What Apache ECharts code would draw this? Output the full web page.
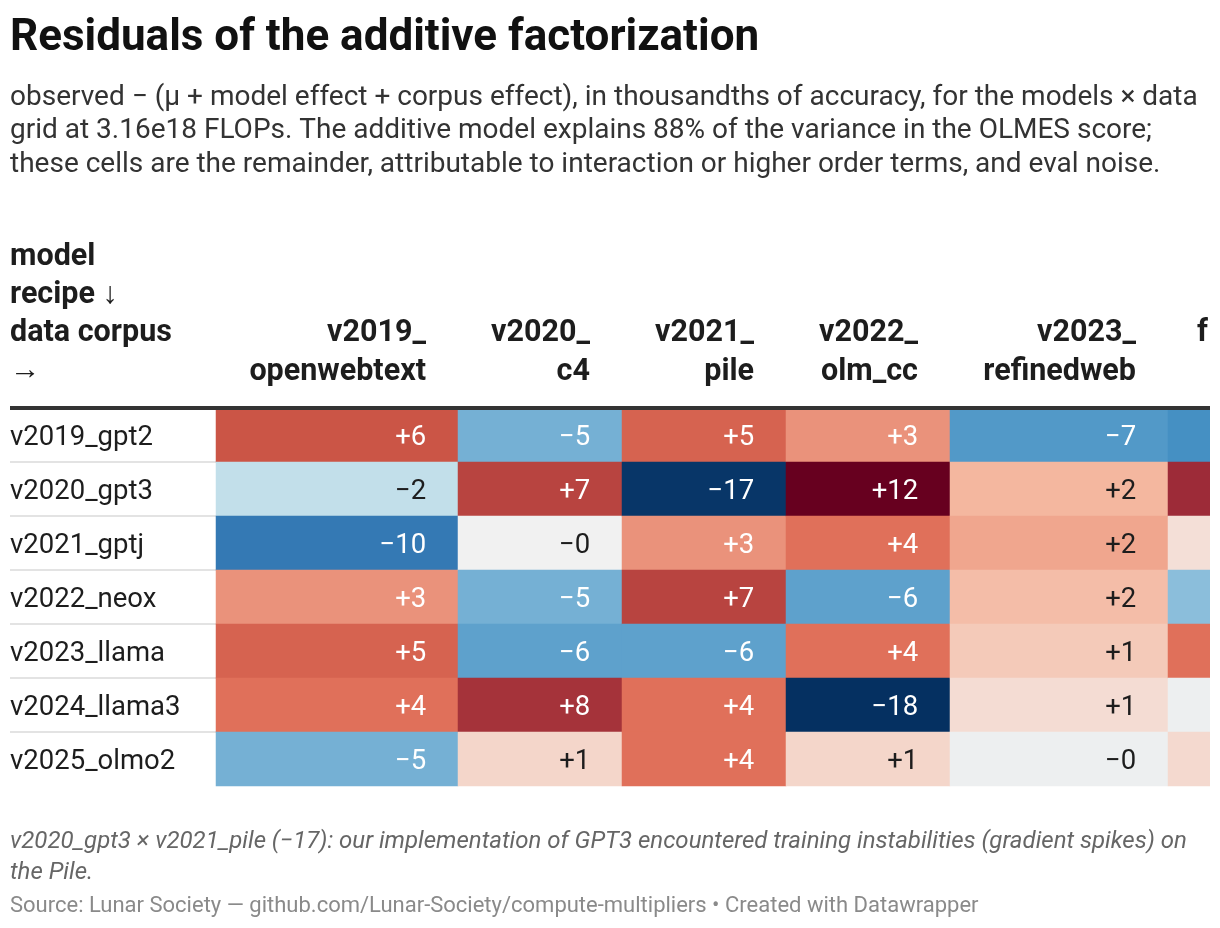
<!DOCTYPE html>
<html>
<head>
<meta charset="utf-8">
<title>Residuals of the additive factorization</title>
<script src="https://cdn.jsdelivr.net/npm/echarts@6/dist/echarts.min.js"></script>
<style>
  html, body { margin: 0; padding: 0; background: #fff; overflow: hidden; }
  #wrap { width: 1210px; height: 928px; overflow: hidden; }
  #chart { width: 1400px; height: 928px; }
</style>
</head>
<body>
<div id="wrap"><div id="chart"></div></div>
<script>
// model recipes (rows) and data corpora (columns)
var models = ['v2019_gpt2', 'v2020_gpt3', 'v2021_gptj', 'v2022_neox', 'v2023_llama', 'v2024_llama3', 'v2025_olmo2'];
var corpora = ['v2019_\nopenwebtext', 'v2020_\nc4', 'v2021_\npile', 'v2022_\nolm_cc', 'v2023_\nrefinedweb', 'f'];

var gpt2   = [6, -5, 5, 3, -7, -8];
var gpt3   = [-2, 7, -17, 12, 1.9, 8.5];
var gptj   = [-10, -0.1, 3, 4, 2.4, 0.6];
var neox   = [3, -5, 7, -6, 1.7, -4];
var llama  = [5, -6, -6, 4, 1.3, 4];
var llama3 = [4, 8, 4, -18, 0.7, -0.3];
var olmo2  = [-5, 0.9, 4, 0.9, -0.3, 0.8];
var residuals = [gpt2, gpt3, gptj, neox, llama, llama3, olmo2];

// colour stops of the diverging scale, -18 .. +12 in steps of 2
var scaleColors = ['#053061', '#0a3b6e', '#134f8a', '#1f62a2', '#3479b4', '#4590c3', '#5ea1cc', '#8bbedb',
  '#c2dfea', '#f4f2f1', '#f4b49b', '#e0705a', '#cb5546', '#a5333a', '#861430', '#67001f'];

// table layout
var colLeft = [216, 458, 622, 786, 950, 1168];
var colWidth = [242, 164, 164, 164, 218, 218];
var tableTop = 408, tableHeight = 378;
var FONT = 'Roboto, "Noto Sans", sans-serif';

function fmt(v) {
  var r = Math.abs(Math.round(v));
  return (v < 0 ? '\u2212' : '+') + r;
}

var grids = [], xAxes = [], yAxes = [], series = [];

// label column
grids.push({ left: 10, top: tableTop, width: colLeft[0] - 10, height: tableHeight });
xAxes.push({ type: 'category', gridIndex: 0, data: [''], show: false });
yAxes.push({
  type: 'category', gridIndex: 0, data: models, inverse: true,
  axisLine: { show: false }, axisTick: { show: false },
  axisLabel: {
    inside: true, margin: 0, align: 'left',
    formatter: function (v) { return '{m|' + v + '}'; },
    rich: { m: { color: '#1d1d1d', fontSize: 27.5, fontFamily: FONT, padding: [6, 0, 0, 0] } }
  },
  splitLine: { show: true, showMinLine: false, showMaxLine: false, lineStyle: { color: '#e3e3e3', width: 2 } }
});

corpora.forEach(function (name, c) {
  var g = c + 1;
  grids.push({ left: colLeft[c], top: tableTop, width: colWidth[c], height: tableHeight });
  xAxes.push({ type: 'category', gridIndex: g, data: [name], show: false });
  yAxes.push({ type: 'category', gridIndex: g, data: models, inverse: true, show: false });
  series.push({
    type: 'heatmap',
    xAxisIndex: g,
    yAxisIndex: g,
    data: models.map(function (m, r) {
      var v = residuals[r][c];
      return {
        value: [0, r, v],
        label: { color: Math.abs(v) >= 2.5 ? '#ffffff' : '#1d1d1d' }
      };
    }),
    label: {
      show: true,
      position: 'insideRight',
      distance: 32,
      offset: [0, 3],
      fontSize: 27.5,
      fontFamily: FONT,
      formatter: function (p) { return fmt(p.value[2]); }
    },
    itemStyle: { borderWidth: 0 },
    emphasis: { disabled: true }
  });
});

var graphics = [
  { type: 'text', left: 10, top: 17, style: { text: 'Residuals of the additive factorization', font: 'bold 44px ' + FONT, fill: '#111' } },
  { type: 'text', left: 10, top: 81, style: {
      text: 'observed \u2212 (\u03bc + model effect + corpus effect), in thousandths of accuracy, for the models \u00d7 data\n' +
            'grid at 3.16e18 FLOPs. The additive model explains 88% of the variance in the OLMES score;\n' +
            'these cells are the remainder, attributable to interaction or higher order terms, and eval noise.',
      font: '28px ' + FONT, fill: '#333', lineHeight: 33.5 } },
  { type: 'text', x: 10, y: 390, style: {
      text: 'model\nrecipe \u2193\ndata corpus\n\u2192', font: 'bold 30.5px ' + FONT, fill: '#1d1d1d',
      lineHeight: 38, textAlign: 'left', textVerticalAlign: 'bottom' } },
  { type: 'line', shape: { x1: 10, y1: 408, x2: 1220, y2: 408 }, style: { stroke: '#333', lineWidth: 4 }, z: 100 },
  { type: 'text', left: 10, top: 826, style: {
      text: 'v2020_gpt3 \u00d7 v2021_pile (\u221217): our implementation of GPT3 encountered training instabilities (gradient spikes) on\nthe Pile.',
      font: 'italic 24px ' + FONT, fill: '#666', lineHeight: 31 } },
  { type: 'text', left: 10, top: 895, style: {
      text: 'Source: Lunar Society \u2014 github.com/Lunar-Society/compute-multipliers \u2022 Created with Datawrapper',
      font: '22px ' + FONT, fill: '#8a8a8a' } }
];

// column headers, right-aligned over the cells (the cut-off last column only shows its first letter)
corpora.forEach(function (name, c) {
  var last = c === corpora.length - 1;
  graphics.push({
    type: 'text',
    x: last ? colLeft[c] + 29 : colLeft[c] + colWidth[c] - 32,
    y: last ? 353 : 392,
    style: {
      text: name, font: 'bold 30.5px ' + FONT, fill: '#1d1d1d', lineHeight: 39,
      textAlign: last ? 'left' : 'right', textVerticalAlign: 'bottom'
    }
  });
});

var chart = echarts.init(document.getElementById('chart'), null, { renderer: 'canvas' });
chart.setOption({
  backgroundColor: '#ffffff',
  animation: false,
  grid: grids,
  xAxis: xAxes,
  yAxis: yAxes,
  visualMap: {
    type: 'continuous',
    show: false,
    min: -18,
    max: 12,
    dimension: 2,
    seriesIndex: series.map(function (s, i) { return i; }),
    inRange: { color: scaleColors }
  },
  series: series,
  graphic: graphics
});
</script>
</body>
</html>
